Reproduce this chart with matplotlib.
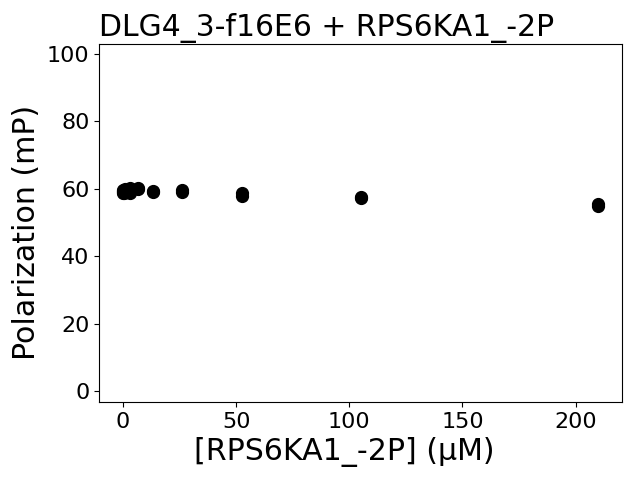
import matplotlib
matplotlib.use("Agg")
import matplotlib.pyplot as plt
import numpy as np

conc = [210.0, 105.0, 52.5, 26.25, 13.125, 6.5625, 3.28125, 1.640625, 0.8203125, 0.41015625, 0.205078125, 0.0]
rep1 = [55.4, 57.5, 58.8, 59.5, 59.3, 60.2, 60.1, 59.5, 59.8, 59.2, 58.8, 59.6]
rep2 = [54.8, 57.2, 57.8, 59.1, 59.1, 59.9, 58.8, 59.0, 59.3, 58.7, 59.4, 58.9]

fig = plt.figure(figsize=(6.4, 4.8), dpi=100)
ax = fig.add_axes([0.155, 0.1625, 0.817, 0.7455])
ax.plot(conc, rep1, "o", color="black", ms=8.5)
ax.plot(conc, rep2, "o", color="black", ms=8.5)
ax.set_ylim(-3.2, 102.8)
ax.set_xlim(-10.5, 220.5)
ax.set_xlabel("[RPS6KA1_-2P] (\u00b5M)", fontsize=21.6, x=0.468)
ax.set_ylabel("Polarization (mP)", fontsize=21.6, y=0.475)
ax.set_title("DLG4_3-f16E6 + RPS6KA1_-2P", fontsize=21.5, loc="left")
ax.tick_params(labelsize=16)
fig.savefig("out.png")
